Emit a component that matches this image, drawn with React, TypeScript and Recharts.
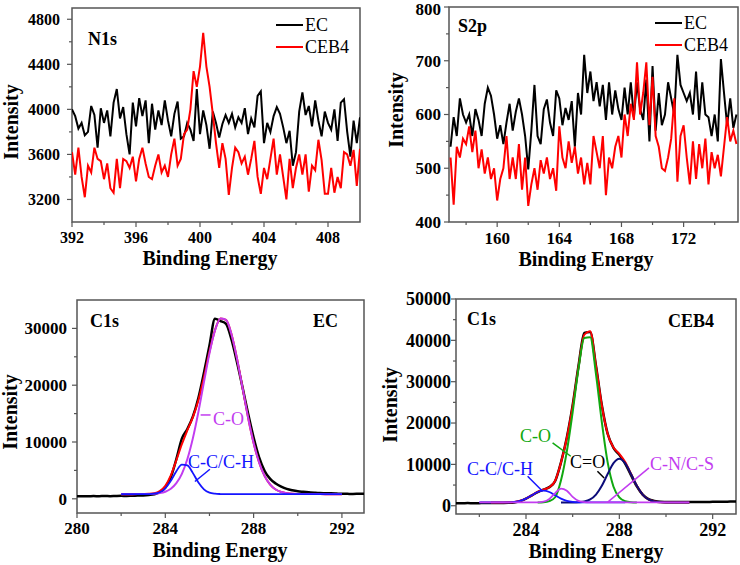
import { Legend, Line, LineChart, ReferenceArea, ReferenceLine, XAxis, YAxis } from 'recharts'

const SERIF = "'Liberation Serif', 'Times New Roman', serif"
const FRAME = '#555555'
const PINK = '#c23cf0'
const BLUE = '#1414ff'
const GREEN = '#10a810'
const NAVY = '#0c0c7a'

// N1s, 392–410 eV every 0.2 eV
const n1sStart = 392
const n1sStep = 0.2
const n1sEC = [
    4000, 3940, 3830, 3880, 3770, 3800, 4030, 3950, 3660, 4010,
    3880, 3990, 3760, 4060, 4180, 3920, 4020, 3780, 3600, 4060,
    3850, 4100, 3940, 4080, 3700, 4050, 3820, 3990, 3860, 4080,
    3900, 3760, 3960, 4070, 3740, 3760, 3880, 3820, 3720, 4180,
    3780, 3990, 3860, 3650, 3980, 3880, 3750, 3870, 3950, 3880,
    3960, 3840, 3930, 3880, 4010, 3780, 3920, 3840, 4120, 4160,
    3700, 3880, 3800, 3940, 4020, 3960, 3840, 3700, 3810, 3500,
    3620, 3980, 4150, 3950, 4030, 3850, 4080, 3900, 3760, 3980,
    3880, 3820, 4000, 3720, 4060, 4090, 3800, 3580, 3900, 3700,
    3930,
]
const n1sCEB4 = [
    3620, 3420, 3660, 3400, 3220, 3500, 3440, 3660, 3560, 3540,
    3380, 3520, 3300, 3260, 3560, 3300, 3560, 3540, 3480, 3580,
    3360, 3560, 3660, 3520, 3400, 3380, 3500, 3600, 3440, 3500,
    3400, 3600, 3740, 3500, 3560, 3780, 3820, 4000, 4340, 4200,
    4380, 4680, 4380, 4200, 3960, 3700, 3480, 3700, 3560, 3240,
    3480, 3660, 3620, 3520, 3580, 3420, 3560, 3720, 3400, 3250,
    3480, 3380, 3560, 3740, 3420, 3600, 3400, 3200, 3560, 3300,
    3480, 3600, 3420, 3600, 3270, 3500, 3460, 3730, 3550, 3250,
    3250, 3480, 3260, 3400, 3300, 3620, 3600, 3500, 3640, 3320,
    3650,
]

// S2p, 157–175.4 eV every 0.2 eV
const s2pStart = 157
const s2pStep = 0.2
const s2pEC = [
    540, 595, 560, 630, 600, 585, 600, 560, 610, 590,
    560, 620, 650, 635, 600, 555, 580, 545, 585, 620,
    570, 605, 630, 600, 560, 498, 570, 655, 560, 545,
    610, 628, 585, 560, 645, 630, 580, 612, 590, 625,
    540, 640, 600, 711, 640, 680, 625, 660, 615, 655,
    590, 660, 600, 645, 610, 590, 650, 600, 660, 595,
    660, 610, 590, 665, 550, 690, 570, 640, 580, 600,
    660, 630, 600, 711, 655, 640, 625, 640, 600, 680,
    590, 660, 600, 595, 560, 600, 550, 703, 640, 580,
    630, 575, 600,
]
const s2pCEB4 = [
    520, 432, 540, 520, 555, 545, 578, 530, 570, 500,
    535, 490, 520, 480, 500, 440, 480, 500, 560, 480,
    520, 480, 545, 460, 520, 430, 470, 500, 460, 515,
    490, 520, 480, 500, 458, 578, 520, 500, 550, 510,
    540, 490, 520, 470, 510, 470, 560, 530, 500, 560,
    450, 520, 500, 540, 560, 520, 600, 560, 620, 590,
    697, 600, 640, 697, 580, 670, 560, 540, 500, 495,
    520, 555, 630, 475, 560, 580, 520, 470, 550, 480,
    545, 500, 555, 470, 530, 500, 525, 485, 540, 595,
    550, 570, 545,
]

// C1s of EC, 280–293 eV every 0.25 eV; fitted curves from 282 eV
const c1sStep = 0.25
const c1sEcStart = 280
const c1sEcRaw = [
    450, 470, 440, 480, 460, 490, 470, 500, 520, 500,
    540, 560, 600, 680, 800, 1150, 2000, 3800, 7000, 10600,
    12300, 14500, 17800, 22200, 27000, 31700, 31300, 30800, 28000, 24000,
    19600, 15000, 10800, 7300, 4900, 3500, 2700, 2150, 1750, 1500,
    1320, 1230, 1150, 1080, 1020, 990, 960, 920, 880, 870,
    860, 880, 900,
]
const c1sEcFitStart = 282
const c1sEcFit = [
    820, 820, 820, 830, 850, 880, 975, 1340, 2280, 4120, 6790, 9610,
    12070, 14380, 17350, 21390, 25880, 29700, 31750, 31490, 28930, 24640,
    19480, 14320, 9840, 6390, 3990, 2500, 1630, 1190, 980, 880,
    850, 840, 835, 830, 825, 820, 820, 820, 820,
]
const c1sEcCO = [
    820, 820, 820, 825, 840, 860, 890, 1000, 1250, 1770, 2750, 4400,
    7010, 10680, 15310, 20540, 25610, 29620, 31730, 31490, 28930, 24640,
    19480, 14320, 9840, 6390, 3990, 2500, 1630, 1190, 980, 880,
    850, 840, 835, 830, 825, 820, 820, 820, 820,
]
const c1sEcCC = [
    820, 820, 820, 825, 830, 840, 905, 1160, 1850, 3170, 4860, 6030,
    5880, 4520, 2860, 1670, 1090, 900, 840, 820, 820, 820,
    820, 820, 820, 820, 820, 820, 820, 820, 820, 820,
    820, 820, 820, 820, 820, 820, 820, 820, 820,
]

// C1s of CEB4, 281–293 eV every 0.25 eV
const c1sCebStart = 281
const c1sCebRaw = [
    620, 600, 640, 610, 630, 650, 640, 660, 670, 700,
    800, 1100, 1700, 2500, 3300, 3900, 4500, 6000, 10500, 16500,
    24300, 33800, 41800, 42000, 33800, 24300, 17400, 14000, 12300, 10200,
    7400, 4700, 2700, 1600, 1150, 950, 920, 900, 890, 880,
    880, 890, 900, 920, 940, 960, 980, 1000, 1020,
]
const c1sCebFitStart = 282.5
const c1sCebFit = [
    800, 800, 806, 830, 925, 1185, 1725, 2530, 3345, 3895,
    4480, 6030, 10435, 16365, 24115, 33595, 41400, 42200, 33690, 24230,
    17340, 14080, 12550, 10580, 7725, 4820, 2700, 1520, 1020, 855,
    810, 800, 800, 800, 800,
]
const c1sCebCOStart = 284.5
const c1sCebCO = [
    810, 865, 1115, 2050, 6150, 13150, 22650, 33150, 40550, 40750,
    31790, 20210, 10470, 4600, 2000, 1100, 855, 800,
]
const c1sCebCdoStart = 285.5
const c1sCebCdo = [
    800, 800, 805, 855, 1020, 1520, 2700, 4820, 7670, 10280,
    11350, 10280, 7670, 4820, 2700, 1520, 1020, 855, 810, 800,
    800, 800, 800,
]
const c1sCebCCStart = 282
const c1sCebCC = [
    800, 800, 800, 800, 806, 830, 925, 1185, 1725, 2530,
    3315, 3650, 3315, 2530, 1725, 1185, 925, 830, 806, 800,
    800, 800, 800, 800, 800, 800,
]
const c1sCebCNStart = 282
const c1sCebCN = [
    800, 800, 800, 800, 800, 800, 800, 800, 800, 800,
    820, 980, 1650, 3050, 4160, 3630, 2140, 1160, 855, 805,
    800, 800, 800, 800, 800, 800, 800, 800, 800, 800,
    800, 800, 800, 800, 800, 800, 800,
]

type Series = { key: string; start: number; values: number[] }

function buildRows(start: number, step: number, count: number, series: Series[]) {
    const rows: Record<string, number | null>[] = []
    for (let i = 0; i < count; i++) {
        const e = Math.round((start + i * step) * 1000) / 1000
        const row: Record<string, number | null> = { e }
        series.forEach((s) => {
            const j = Math.round((e - s.start) / step)
            row[s.key] = j >= 0 && j < s.values.length ? s.values[j] : null
        })
        rows.push(row)
    }
    return rows
}

const n1sRows = buildRows(n1sStart, n1sStep, n1sEC.length, [
    { key: 'ec', start: n1sStart, values: n1sEC },
    { key: 'ceb4', start: n1sStart, values: n1sCEB4 },
])
const s2pRows = buildRows(s2pStart, s2pStep, s2pEC.length, [
    { key: 'ec', start: s2pStart, values: s2pEC },
    { key: 'ceb4', start: s2pStart, values: s2pCEB4 },
])
const c1sEcRows = buildRows(c1sEcStart, c1sStep, c1sEcRaw.length, [
    { key: 'raw', start: c1sEcStart, values: c1sEcRaw },
    { key: 'fit', start: c1sEcFitStart, values: c1sEcFit },
    { key: 'co', start: c1sEcFitStart, values: c1sEcCO },
    { key: 'cc', start: c1sEcFitStart, values: c1sEcCC },
])
const c1sCebRows = buildRows(c1sCebStart, c1sStep, c1sCebRaw.length, [
    { key: 'raw', start: c1sCebStart, values: c1sCebRaw },
    { key: 'fit', start: c1sCebFitStart, values: c1sCebFit },
    { key: 'co', start: c1sCebCOStart, values: c1sCebCO },
    { key: 'cdo', start: c1sCebCdoStart, values: c1sCebCdo },
    { key: 'cc', start: c1sCebCCStart, values: c1sCebCC },
    { key: 'cn', start: c1sCebCNStart, values: c1sCebCN },
])

function xTick(majors: number[], fontSize: number, gap: number) {
    return (props: any) => {
        const { x, y, payload } = props
        const major = majors.includes(payload.value)
        return (
            <g>
                <line x1={x} x2={x} y1={y} y2={y + (major ? 5 : 3)} stroke={FRAME} strokeWidth={1.2} />
                {major && (
                    <text x={x} y={y + gap} textAnchor="middle" fontFamily={SERIF} fontWeight="bold" fontSize={fontSize} fill="#000">
                        {payload.value}
                    </text>
                )}
            </g>
        )
    }
}

function yTick(majors: number[], fontSize: number, gap: number) {
    return (props: any) => {
        const { x, y, payload } = props
        const major = majors.includes(payload.value)
        // keep the top label inside the picture
        const ty = Math.max(y + fontSize * 0.35, fontSize * 0.88)
        return (
            <g>
                <line x1={x} x2={x - (major ? 5 : 3)} y1={y} y2={y} stroke={FRAME} strokeWidth={1.2} />
                {major && (
                    <text x={x - gap} y={ty} textAnchor="end" fontFamily={SERIF} fontWeight="bold" fontSize={fontSize} fill="#000">
                        {payload.value}
                    </text>
                )}
            </g>
        )
    }
}

const boldText = { fontFamily: SERIF, fontWeight: 'bold' as const, fill: '#000' }

function AxisTitles({ cx, by, ix, iy }: { cx: number; by: number; ix: number; iy: number }) {
    return (
        <g>
            <text x={cx} y={by} textAnchor="middle" fontSize={20} {...boldText}>Binding Energy</text>
            <text x={ix} y={iy} transform={`rotate(-90 ${ix} ${iy})`} textAnchor="middle" fontSize={20} {...boldText}>Intensity</text>
        </g>
    )
}

function TopLegend() {
    const row = (color: string, label: string) => (
        <div style={{ display: 'flex', alignItems: 'center', height: 22 }}>
            <span style={{ display: 'inline-block', width: 27, height: 2, background: color, marginRight: 2 }} />
            <span style={{ fontFamily: SERIF, fontSize: 18, color: '#000', lineHeight: '22px' }}>{label}</span>
        </div>
    )
    return (
        <div>
            {row('#000', 'EC')}
            {row('#ff0000', 'CEB4')}
        </div>
    )
}

function N1sPanel() {
    return (
        <LineChart width={370} height={280} data={n1sRows} margin={{ top: 8, right: 10, bottom: 8, left: 10 }}>
            <XAxis dataKey="e" type="number" domain={[392, 410]} allowDataOverflow ticks={[392, 394, 396, 398, 400, 402, 404, 406, 408]} interval={0}
                tick={xTick([392, 396, 400, 404, 408], 16, 21)} tickSize={0} tickMargin={0} axisLine={false} tickLine={false} height={50} />
            <YAxis type="number" domain={[3000, 4900]} allowDataOverflow ticks={[3200, 3400, 3600, 3800, 4000, 4200, 4400, 4600, 4800]} interval={0}
                tick={yTick([3200, 3600, 4000, 4400, 4800], 16, 12)} tickSize={0} tickMargin={0} axisLine={false} tickLine={false} width={62} />
            <ReferenceArea x1={392} x2={410} y1={3000} y2={4900} fill="none" stroke={FRAME} strokeWidth={1.5} ifOverflow="visible" />
            <Line type="linear" dataKey="ec" stroke="#000" strokeWidth={2} dot={false} activeDot={false} isAnimationActive={false} />
            <Line type="linear" dataKey="ceb4" stroke="#ff0000" strokeWidth={2} dot={false} activeDot={false} isAnimationActive={false} />
            <Legend layout="vertical" align="center" verticalAlign="middle" content={() => <TopLegend />}
                wrapperStyle={{ top: 14, left: 276, width: 90 }} />
            <text x={88} y={45} fontSize={18} {...boldText}>N1s</text>
            <AxisTitles cx={210} by={265} ix={18} iy={122} />
        </LineChart>
    )
}

function S2pPanel() {
    return (
        <LineChart width={370} height={280} data={s2pRows} margin={{ top: 7, right: 2, bottom: 8, left: 10 }}>
            <XAxis dataKey="e" type="number" domain={[156.9, 175.5]} allowDataOverflow ticks={[158, 160, 162, 164, 166, 168, 170, 172, 174]} interval={0}
                tick={xTick([160, 164, 168, 172], 17, 22)} tickSize={0} tickMargin={0} axisLine={false} tickLine={false} height={50} />
            <YAxis type="number" domain={[400, 800]} allowDataOverflow ticks={[400, 450, 500, 550, 600, 650, 700, 750, 800]} interval={0}
                tick={yTick([400, 500, 600, 700, 800], 17, 8)} tickSize={0} tickMargin={0} axisLine={false} tickLine={false} width={69} />
            <ReferenceArea x1={156.9} x2={175.5} y1={400} y2={800} fill="none" stroke={FRAME} strokeWidth={1.5} ifOverflow="visible" />
            <Line type="linear" dataKey="ec" stroke="#000" strokeWidth={2} dot={false} activeDot={false} isAnimationActive={false} />
            <Line type="linear" dataKey="ceb4" stroke="#ff0000" strokeWidth={2} dot={false} activeDot={false} isAnimationActive={false} />
            <Legend layout="vertical" align="center" verticalAlign="middle" content={() => <TopLegend />}
                wrapperStyle={{ top: 12, left: 285, width: 90 }} />
            <text x={88} y={32} fontSize={18} {...boldText}>S2p</text>
            <AxisTitles cx={216} by={266} ix={33} iy={110} />
        </LineChart>
    )
}

function C1sEcPanel() {
    return (
        <LineChart width={370} height={285} data={c1sEcRows} margin={{ top: 20, right: 6, bottom: 8, left: 10 }}>
            <XAxis dataKey="e" type="number" domain={[280, 293]} allowDataOverflow ticks={[280, 282, 284, 286, 288, 290, 292]} interval={0}
                tick={xTick([280, 284, 288, 292], 17, 21)} tickSize={0} tickMargin={0} axisLine={false} tickLine={false} height={44} />
            <YAxis type="number" domain={[-2500, 35000]} allowDataOverflow ticks={[0, 5000, 10000, 15000, 20000, 25000, 30000]} interval={0}
                tick={yTick([0, 10000, 20000, 30000], 17, 10)} tickSize={0} tickMargin={0} axisLine={false} tickLine={false} width={67} />
            <ReferenceArea x1={280} x2={293} y1={-2500} y2={35000} fill="none" stroke={FRAME} strokeWidth={1.5} ifOverflow="visible" />
            <Line type="monotone" dataKey="raw" stroke="#000" strokeWidth={2.5} dot={false} activeDot={false} isAnimationActive={false} />
            <Line type="monotone" dataKey="fit" stroke="#ff0000" strokeWidth={2} dot={false} activeDot={false} isAnimationActive={false} />
            <Line type="monotone" dataKey="co" stroke={PINK} strokeWidth={2} dot={false} activeDot={false} isAnimationActive={false} />
            <Line type="monotone" dataKey="cc" stroke={BLUE} strokeWidth={1.8} dot={false} activeDot={false} isAnimationActive={false} />
            <ReferenceLine segment={[{ x: 285.6, y: 14760 }, { x: 286.05, y: 14760 }]} stroke={PINK} strokeWidth={1.5} ifOverflow="visible" />
            <ReferenceLine segment={[{ x: 285.34, y: 3050 }, { x: 286.02, y: 5200 }]} stroke={BLUE} strokeWidth={1.5} ifOverflow="visible" />
            <text x={90} y={47} fontSize={18} {...boldText}>C1s</text>
            <text x={313} y={47} fontSize={18} {...boldText}>EC</text>
            <text x={213} y={145} fontSize={18} fontFamily={SERIF} fill={PINK}>C-O</text>
            <text x={188} y={188} fontSize={18} fontFamily={SERIF} fill={BLUE}>C-C/C-H</text>
            <AxisTitles cx={220} by={277} ix={17} iy={132} />
        </LineChart>
    )
}

function C1sCebPanel() {
    return (
        <LineChart width={370} height={285} data={c1sCebRows} margin={{ top: 19, right: 4, bottom: 8, left: 10 }}>
            <XAxis dataKey="e" type="number" domain={[281, 293]} allowDataOverflow ticks={[282, 284, 286, 288, 290, 292]} interval={0}
                tick={xTick([284, 288, 292], 18, 22)} tickSize={0} tickMargin={0} axisLine={false} tickLine={false} height={43} />
            <YAxis type="number" domain={[-2000, 50000]} allowDataOverflow
                ticks={[0, 5000, 10000, 15000, 20000, 25000, 30000, 35000, 40000, 45000, 50000]} interval={0}
                tick={yTick([0, 10000, 20000, 30000, 40000, 50000], 18, 5)} tickSize={0} tickMargin={0} axisLine={false} tickLine={false} width={76} />
            <ReferenceArea x1={281} x2={293} y1={-2000} y2={50000} fill="none" stroke={FRAME} strokeWidth={1.5} ifOverflow="visible" />
            <Line type="monotone" dataKey="raw" stroke="#000" strokeWidth={2.5} dot={false} activeDot={false} isAnimationActive={false} />
            <Line type="monotone" dataKey="fit" stroke="#ff0000" strokeWidth={2} dot={false} activeDot={false} isAnimationActive={false} />
            <Line type="monotone" dataKey="co" stroke={GREEN} strokeWidth={2} dot={false} activeDot={false} isAnimationActive={false} />
            <Line type="monotone" dataKey="cdo" stroke={NAVY} strokeWidth={2} dot={false} activeDot={false} isAnimationActive={false} />
            <Line type="monotone" dataKey="cc" stroke={BLUE} strokeWidth={1.8} dot={false} activeDot={false} isAnimationActive={false} />
            <Line type="monotone" dataKey="cn" stroke={PINK} strokeWidth={1.8} dot={false} activeDot={false} isAnimationActive={false} />
            <ReferenceLine segment={[{ x: 285.14, y: 15210 }, { x: 285.92, y: 11970 }]} stroke={GREEN} strokeWidth={1.5} ifOverflow="visible" />
            <ReferenceLine segment={[{ x: 287.06, y: 8330 }, { x: 287.35, y: 6720 }]} stroke="#000" strokeWidth={1.5} ifOverflow="visible" />
            <ReferenceLine segment={[{ x: 284.07, y: 7120 }, { x: 284.71, y: 3480 }]} stroke={BLUE} strokeWidth={1.5} ifOverflow="visible" />
            <ReferenceLine segment={[{ x: 289.27, y: 9140 }, { x: 287.49, y: 810 }]} stroke={PINK} strokeWidth={1.5} ifOverflow="visible" />
            <text x={97} y={45} fontSize={18} {...boldText}>C1s</text>
            <text x={298} y={47} fontSize={18} {...boldText}>CEB4</text>
            <text x={150} y={162} fontSize={18} fontFamily={SERIF} fill={GREEN}>C-O</text>
            <text x={200} y={188} fontSize={18} fontFamily={SERIF} fill="#000">C=O</text>
            <text x={97} y={195} fontSize={18} fontFamily={SERIF} fill={BLUE}>C-C/C-H</text>
            <text x={280} y={190} fontSize={18} fontFamily={SERIF} fill={PINK}>C-N/C-S</text>
            <AxisTitles cx={226} by={278} ix={27} iy={125} />
        </LineChart>
    )
}

export default function App() {
    return (
        <div style={{ position: 'absolute', left: 0, top: 0, width: 740, height: 565, background: '#fff' }}>
            <div style={{ position: 'absolute', left: 0, top: 0 }}><N1sPanel /></div>
            <div style={{ position: 'absolute', left: 370, top: 0 }}><S2pPanel /></div>
            <div style={{ position: 'absolute', left: 0, top: 280 }}><C1sEcPanel /></div>
            <div style={{ position: 'absolute', left: 370, top: 280 }}><C1sCebPanel /></div>
        </div>
    )
}
